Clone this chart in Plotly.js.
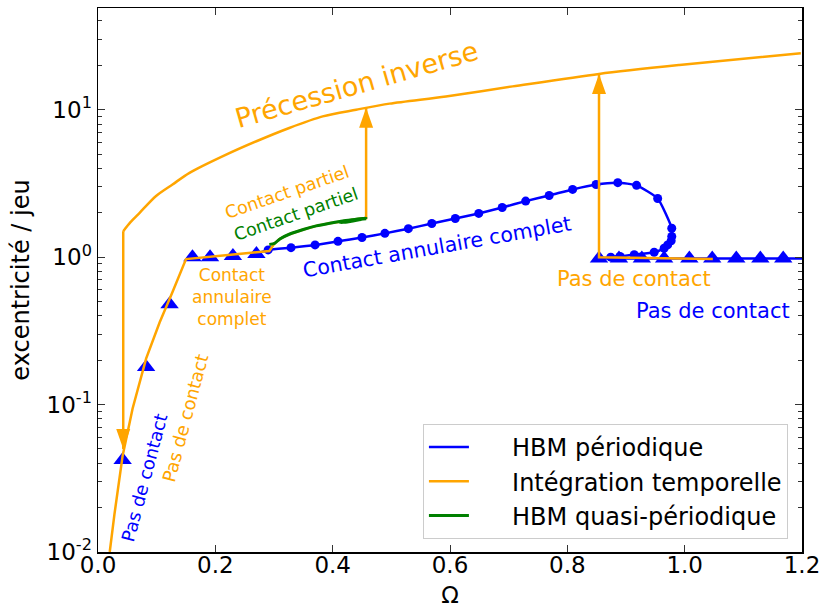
<!DOCTYPE html>
<html><head><meta charset="utf-8">
<script src="https://cdn.plot.ly/plotly-3.0.1.min.js"></script>
<style>html,body{margin:0;padding:0;background:#fff}#chart{width:822px;height:608px}</style>
</head><body><div id="chart"></div>
<script>
// ---------- data ----------
// HBM périodique : stable branches (triangles)
const hbmTriLowX = [0.042, 0.082, 0.122, 0.161, 0.191, 0.230, 0.270];
const hbmTriLowY = [0.042, 0.18, 0.48, 1.00, 1.00, 1.02, 1.05];
// HBM périodique : contact branch (circles)
const hbmCircX = [0.290, 0.329, 0.370, 0.409, 0.450, 0.489, 0.529, 0.569, 0.609, 0.649, 0.689, 0.729, 0.769, 0.809, 0.849, 0.886, 0.918, 0.954, 0.978, 0.978, 0.977, 0.971, 0.965, 0.948, 0.914, 0.890, 0.874];
const hbmCircY = [1.12, 1.16, 1.21, 1.28, 1.36, 1.45, 1.56, 1.69, 1.83, 1.98, 2.17, 2.40, 2.62, 2.88, 3.11, 3.20, 3.07, 2.50, 1.57, 1.38, 1.29, 1.21, 1.15, 1.08, 1.04, 1.01, 1.00];
// HBM périodique : no-contact branch at high speed (triangles)
const hbmTriHighX = [0.854, 0.888, 0.927, 0.965, 1.008, 1.047, 1.088, 1.129, 1.168];
const hbmTriHighY = [0.98, 0.98, 0.98, 0.98, 0.98, 0.98, 0.98, 0.98, 0.98];
const hbmEndX = [1.2];
const hbmEndY = [0.98];

// Intégration temporelle : run-up (lower branch, plateau, partial contact, jump)
const tiUpX = [0.020, 0.028, 0.042, 0.059, 0.082, 0.105, 0.127, 0.150, 0.292, 0.301, 0.310, 0.326, 0.350, 0.372, 0.395, 0.417, 0.440, 0.457, 0.457];
const tiUpY = [0.010, 0.018, 0.045, 0.094, 0.205, 0.36, 0.58, 0.97, 1.10, 1.24, 1.33, 1.43, 1.54, 1.63, 1.70, 1.76, 1.81, 1.84, 10.3];
// Intégration temporelle : run-down (précession inverse)
const tiDownX = [1.198, 0.991, 0.854, 0.707, 0.593, 0.497, 0.440, 0.383, 0.326, 0.270, 0.213, 0.156, 0.127, 0.099, 0.071, 0.055, 0.043];
const tiDownY = [24.2, 20.1, 17.5, 14.4, 12.3, 11.0, 10.0, 9.01, 7.52, 6.11, 4.84, 3.73, 3.11, 2.60, 2.00, 1.72, 1.50];
// Intégration temporelle : drop back to no contact
const tiDropX = [0.043, 0.043];
const tiDropY = [1.50, 0.050];
// Intégration temporelle : no contact at high speed, jump up
const tiHighX = [1.048, 0.854, 0.854];
const tiHighY = [0.97, 1.00, 17.5];

// HBM quasi-périodique
const qpX = [0.292, 0.301, 0.310, 0.326, 0.350, 0.372, 0.395, 0.417, 0.440, 0.457, 0.445, 0.425, 0.412, 0.430, 0.457];
const qpY = [1.22, 1.24, 1.33, 1.43, 1.54, 1.63, 1.70, 1.76, 1.81, 1.85, 1.79, 1.73, 1.72, 1.77, 1.82];

// jump arrows (tip positions)
const arrowX = [0.043, 0.457, 0.854];
const arrowTipY = [0.050, 10.3, 17.5];
const arrowDir = ['down', 'up', 'up'];

// axis ticks
const xTickVals = [0, 0.2, 0.4, 0.6, 0.8, 1.0, 1.2];
const xTickText = ['0.0', '0.2', '0.4', '0.6', '0.8', '1.0', '1.2'];
const yTickVals = [0.01, 0.1, 1, 10];
const yTickText = ['10<sup>-2</sup>', '10<sup>-1</sup>', '10<sup>0</sup>', '10<sup>1</sup>'];

// ---------- figure ----------
const BLUE = '#0000ff', ORANGE = '#ffa500', GREEN = '#008000';
const FONT = 'DejaVu Sans, Liberation Sans, sans-serif';
const NB = '\u00a0\u00a0\u00a0\u00a0\u00a0';

const lastLow = hbmTriLowX.length - 1;
const traces = [
  // blue: contact branch + loop (smooth)
  {x: [hbmTriLowX[lastLow], ...hbmCircX, hbmTriHighX[0]],
   y: [hbmTriLowY[lastLow], ...hbmCircY, hbmTriHighY[0]],
   mode: 'lines', name: NB + 'HBM périodique', legendgroup: 'hbm',
   line: {color: BLUE, width: 2.5, shape: 'spline', smoothing: 0.5}},
  // blue: no-contact branch at high speed
  {x: [...hbmTriHighX, ...hbmEndX], y: [...hbmTriHighY, ...hbmEndY], mode: 'lines', showlegend: false,
   legendgroup: 'hbm', line: {color: BLUE, width: 2.5}},
  {x: [...hbmTriLowX, ...hbmTriHighX], y: [...hbmTriLowY, ...hbmTriHighY], mode: 'markers', showlegend: false,
   marker: {symbol: 'triangle-up', size: 16, color: BLUE}},
  {x: hbmCircX, y: hbmCircY, mode: 'markers', showlegend: false,
   marker: {symbol: 'circle', size: 9, color: BLUE}},
  // orange
  {x: tiUpX, y: tiUpY, mode: 'lines', name: NB + 'Intégration temporelle', legendgroup: 'ti',
   line: {color: ORANGE, width: 2.5}},
  {x: tiDownX, y: tiDownY, mode: 'lines', showlegend: false, legendgroup: 'ti',
   line: {color: ORANGE, width: 2.5, shape: 'spline', smoothing: 0.8}},
  {x: tiDropX, y: tiDropY, mode: 'lines', showlegend: false, legendgroup: 'ti',
   line: {color: ORANGE, width: 2.5}},
  {x: tiHighX, y: tiHighY, mode: 'lines', showlegend: false, legendgroup: 'ti',
   line: {color: ORANGE, width: 2.5}},
  // green
  {x: qpX, y: qpY, mode: 'lines', name: NB + 'HBM quasi-périodique', legendgroup: 'qp',
   line: {color: GREEN, width: 3, shape: 'spline', smoothing: 0.6}}
];

const shapes = arrowX.map((x, i) => ({
  type: 'path', xref: 'x', yref: 'y',
  xsizemode: 'pixel', ysizemode: 'pixel',
  xanchor: x, yanchor: arrowTipY[i],
  path: arrowDir[i] === 'up' ? 'M0,0 L-7,-20 L7,-20 Z' : 'M0,0 L-7,20 L7,20 Z',
  fillcolor: ORANGE, line: {width: 0}, layer: 'above'
}));

function lab(text, x, logy, color, size, angle) {
  return {text: text, x: x, y: logy, xref: 'x', yref: 'y', showarrow: false,
    textangle: angle || 0, xanchor: 'center', yanchor: 'middle',
    font: {family: FONT, size: size, color: color}};
}
const annotations = [
  lab('Précession inverse', 0.441, 1.172, ORANGE, 27, -16),
  lab('Contact partiel', 0.323, 0.439, ORANGE, 17.5, -19),
  lab('Contact partiel', 0.338, 0.291, GREEN, 17.5, -19),
  lab('Contact<br>annulaire<br>complet', 0.228, -0.27, ORANGE, 17, 0),
  lab('Contact annulaire complet', 0.577, 0.071, BLUE, 20.5, -10),
  lab('Pas de contact', 0.914, -0.149, ORANGE, 21, 0),
  lab('Pas de contact', 1.049, -0.365, BLUE, 21, 0),
  lab('Pas de contact', 0.149, -1.088, ORANGE, 18, -75),
  lab('Pas de contact', 0.0787, -1.493, BLUE, 18, -75)
];

const minorY = [];
for (let d = -2; d <= 1; d++) for (let k = 2; k <= 9; k++) minorY.push(k * Math.pow(10, d));

const layout = {
  width: 822, height: 608,
  margin: {l: 98, r: 20, t: 8, b: 56},
  paper_bgcolor: '#ffffff', plot_bgcolor: '#ffffff',
  font: {family: FONT, size: 23, color: '#000'},
  showlegend: true,
  legend: {x: 0.980, y: 0.024, xanchor: 'right', yanchor: 'bottom',
    bgcolor: '#ffffff', bordercolor: '#cccccc', borderwidth: 1, tracegroupgap: 0,
    font: {family: FONT, size: 24, color: '#000'}, itemwidth: 40},
  xaxis: {range: [0, 1.2], tickmode: 'array', tickvals: xTickVals, ticktext: xTickText,
    ticks: 'inside', ticklen: 7, tickwidth: 1, tickcolor: '#333', mirror: 'ticks',
    showline: true, linecolor: '#000', linewidth: 1.5, showgrid: false, zeroline: false,
    ticklabelstandoff: -8,
    tickfont: {family: FONT, size: 23, color: '#000'},
    title: {text: 'Ω', font: {family: FONT, size: 23, color: '#000'}, standoff: 12}},
  yaxis: {type: 'log', range: [-2, 1.69], tickmode: 'array', tickvals: yTickVals, ticktext: yTickText,
    ticks: 'inside', ticklen: 7, tickwidth: 1, tickcolor: '#333', mirror: 'ticks',
    minor: {ticks: 'inside', ticklen: 4, tickcolor: '#333', tickmode: 'array', tickvals: minorY},
    showline: true, linecolor: '#000', linewidth: 1.5, showgrid: false, zeroline: false,
    tickfont: {family: FONT, size: 23, color: '#000'},
    title: {text: 'excentricité / jeu', font: {family: FONT, size: 24, color: '#000'}, standoff: 10}},
  shapes: shapes,
  annotations: annotations
};

Plotly.newPlot('chart', traces, layout, {displayModeBar: false, staticPlot: true});
</script>
</body></html>
